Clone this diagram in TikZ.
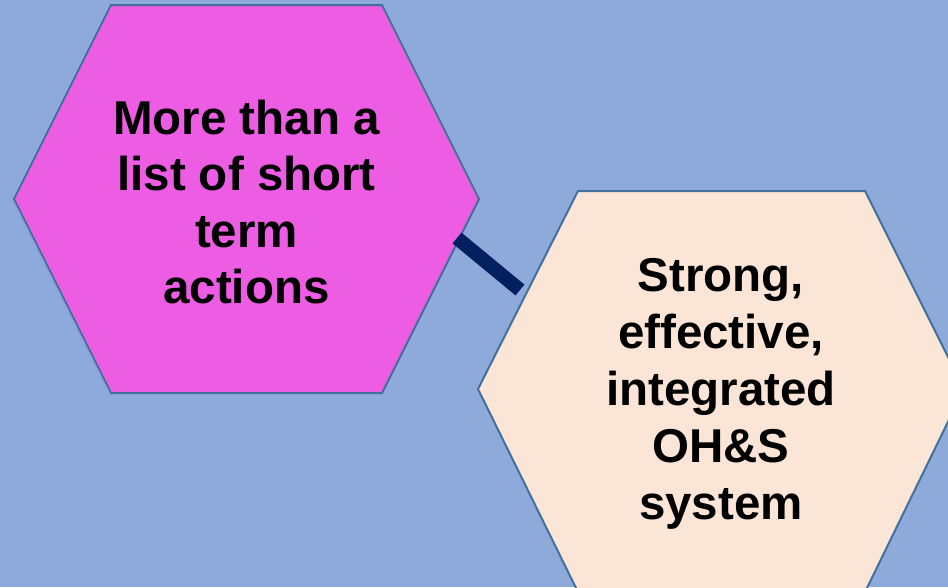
\documentclass[tikz,border=0pt]{standalone}
\usepackage{fontspec}
\setmainfont{Liberation Sans}
\definecolor{bgblue}{HTML}{8EAADB}
\definecolor{hexline}{HTML}{41719C}
\definecolor{magentafill}{HTML}{EC5DE4}
\definecolor{peachfill}{HTML}{FBE5D6}
\definecolor{navy}{HTML}{002060}
\begin{document}
\begin{tikzpicture}[x=1pt,y=-1pt,
  hexshape/.style={draw=hexline, line width=2pt, line join=miter},
  hextext/.style={align=center, font=\bfseries\fontsize{47.5}{56.3}\selectfont, inner sep=0pt},
  link/.style={draw=navy, line width=14pt}]
\useasboundingbox (0,0) rectangle (948,587);
\clip (0,0) rectangle (948,587);
\fill[bgblue] (0,0) rectangle (948,587);
% left hexagon
\path[hexshape, fill=magentafill] (111,5) -- (382,5) -- (479,199) -- (382,393) -- (111,393) -- (14,199) -- cycle;
% right hexagon (bottom edge lies just below the picture)
\path[hexshape, fill=peachfill] (578,191) -- (865,191) -- (964,389) -- (866,590) -- (577,590) -- (478,389) -- cycle;
\node[hextext] (left) at (246.5,202) {More than a\\list of short\\term\\actions};
\node[hextext, font=\bfseries\fontsize{47.5}{57}\selectfont] (right) at (721,394) {Strong,\\effective,\\integrated\\OH\&S\\system};
\coordinate (linkA) at (457,238);
\coordinate (linkB) at (520,290);
\draw[link] (linkA) -- (linkB);
\end{tikzpicture}
\end{document}
